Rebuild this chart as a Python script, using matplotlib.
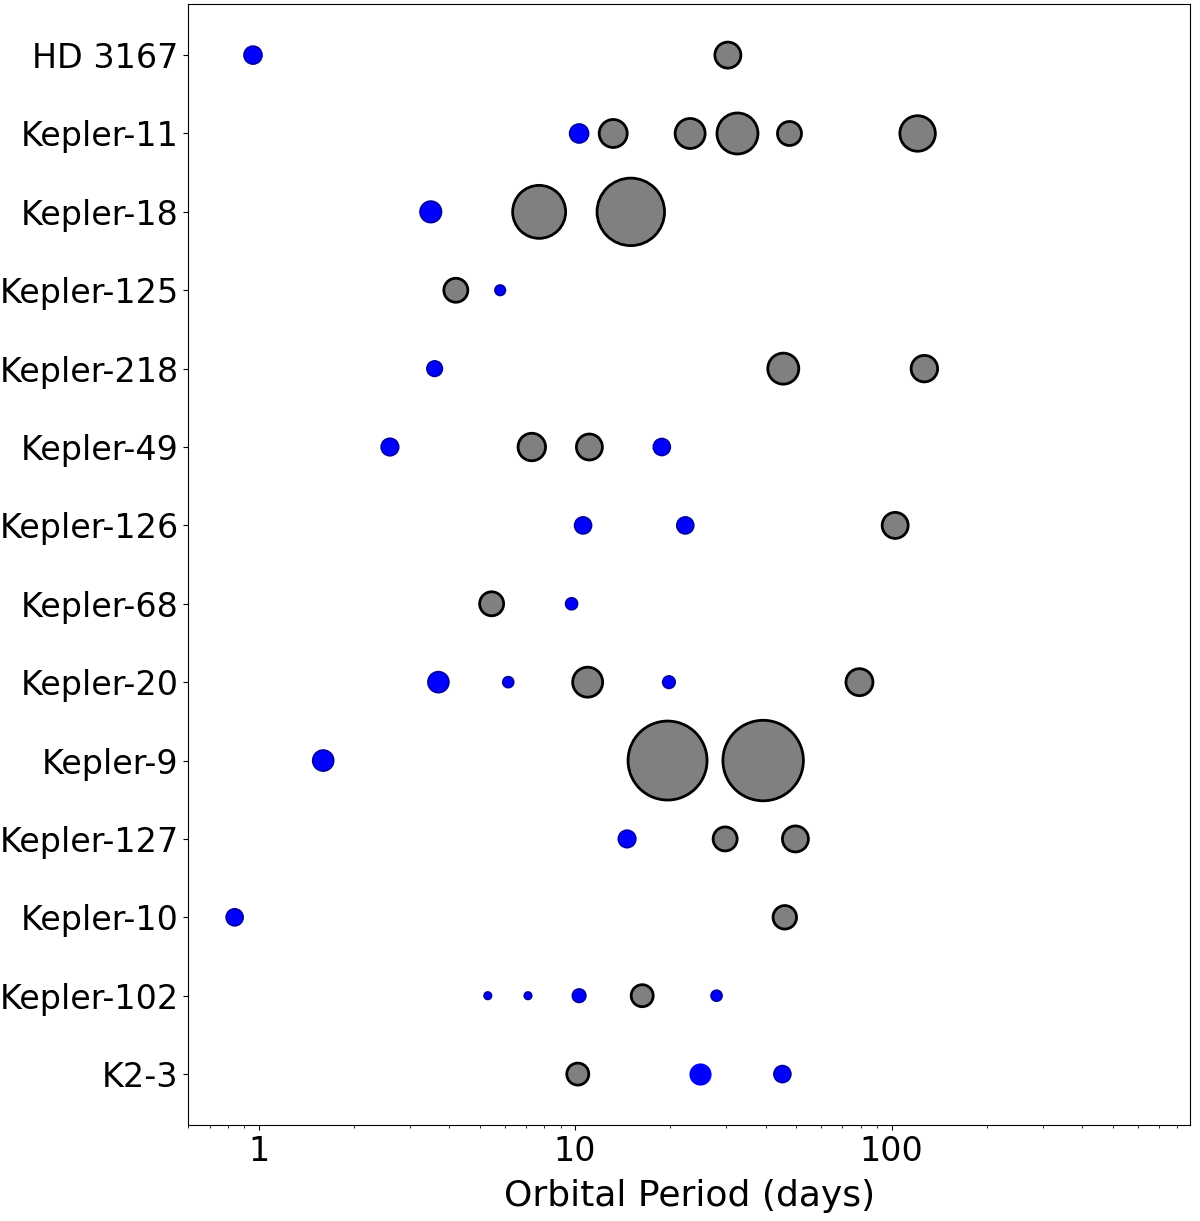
import matplotlib
matplotlib.use("Agg")
import matplotlib.pyplot as plt
import numpy as np

# systems, top to bottom
systems = ["HD 3167", "Kepler-11", "Kepler-18", "Kepler-125", "Kepler-218",
           "Kepler-49", "Kepler-126", "Kepler-68", "Kepler-20", "Kepler-9",
           "Kepler-127", "Kepler-10", "Kepler-102", "K2-3"]

# one entry per planet: host system, period (days), radius (R_earth), kind
host = ["HD 3167", "HD 3167",
        "Kepler-11", "Kepler-11", "Kepler-11", "Kepler-11", "Kepler-11", "Kepler-11",
        "Kepler-18", "Kepler-18", "Kepler-18",
        "Kepler-125", "Kepler-125",
        "Kepler-218", "Kepler-218", "Kepler-218",
        "Kepler-49", "Kepler-49", "Kepler-49", "Kepler-49",
        "Kepler-126", "Kepler-126", "Kepler-126",
        "Kepler-68", "Kepler-68",
        "Kepler-20", "Kepler-20", "Kepler-20", "Kepler-20", "Kepler-20",
        "Kepler-9", "Kepler-9", "Kepler-9",
        "Kepler-127", "Kepler-127", "Kepler-127",
        "Kepler-10", "Kepler-10",
        "Kepler-102", "Kepler-102", "Kepler-102", "Kepler-102", "Kepler-102",
        "K2-3", "K2-3", "K2-3"]
period = [0.96, 30.4,
          10.3, 13.2, 23.1, 32.6, 47.6, 120.9,
          3.5, 7.7, 15.0,
          4.2, 5.8,
          3.6, 45.5, 127.0,
          2.6, 7.3, 11.1, 18.8,
          10.6, 22.3, 102.7,
          5.45, 9.75,
          3.7, 6.15, 10.96, 19.8, 79.2,
          1.6, 19.6, 39.3,
          14.6, 29.8, 49.7,
          0.84, 46.0,
          5.3, 7.1, 10.3, 16.3, 28.0,
          10.2, 24.9, 45.2]
radius = [1.8, 2.6,
          1.9, 2.8, 3.0, 4.1, 2.4, 3.55,
          2.15, 5.3, 6.75,
          2.4, 1.05,
          1.55, 3.1, 2.65,
          1.75, 2.75, 2.6, 1.7,
          1.7, 1.7, 2.6,
          2.4, 1.2,
          2.1, 1.1, 3.0, 1.25, 2.7,
          2.1, 7.9, 8.05,
          1.75, 2.4, 2.6,
          1.7, 2.35,
          0.75, 0.75, 1.35, 2.2, 1.1,
          2.2, 2.05, 1.7]
kind = ["r", "g",
        "r", "g", "g", "g", "g", "g",
        "r", "g", "g",
        "g", "r",
        "r", "g", "g",
        "r", "g", "g", "r",
        "r", "r", "g",
        "g", "r",
        "r", "r", "g", "r", "g",
        "r", "g", "g",
        "r", "g", "g",
        "r", "g",
        "r", "r", "r", "g", "r",
        "g", "c", "r"]

plt.rcParams['font.family'] = 'DejaVu Sans'

fig = plt.figure(figsize=(12, 12.21), dpi=100)
ax = fig.add_axes([0.157, 0.0786, 0.835, 0.918])

y = np.array([systems.index(h) for h in host])
p = np.array(period)
s = (np.array(radius) * 7.2) ** 2
k = np.array(kind)

m = k == "g"
ax.scatter(p[m], y[m], s=s[m], c="gray", edgecolors="k", linewidths=2, zorder=3)
m = k == "r"
ax.scatter(p[m], y[m], s=s[m], c="blue", edgecolors="#0000a0", linewidths=1.2, zorder=3)
m = k == "c"
ax.scatter(p[m], y[m], s=s[m], c="blue", edgecolors="blue", linewidths=1.2, zorder=3)

ax.set_xscale("log")
ax.set_xlim(0.6, 880)
ax.set_yticks(range(len(systems)))
ax.set_yticklabels(systems)
ax.set_ylim(len(systems) - 1 + 0.65, -0.65)
ax.set_xticks([1, 10, 100])
ax.set_xticklabels(["1", "10", "100"])
ax.tick_params(labelsize=24)
ax.set_xlabel("Orbital Period (days)", fontsize=26, labelpad=8)

plt.savefig("out.png")
